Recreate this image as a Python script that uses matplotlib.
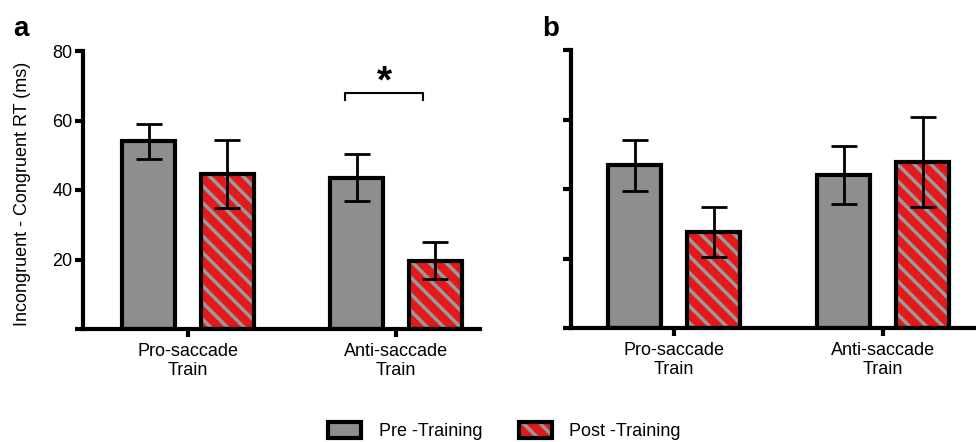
import numpy as np
import matplotlib
matplotlib.use("Agg")
import matplotlib.pyplot as plt
from matplotlib.patches import Patch
from matplotlib.legend_handler import HandlerTuple

plt.rcParams['font.family'] = ['Liberation Sans', 'DejaVu Sans']
plt.rcParams['hatch.linewidth'] = 2.5

# data (ms)
groups = ["Pro-saccade\nTrain", "Anti-saccade\nTrain"]
pre_a = [54.0, 43.5]
pre_a_err = [5.0, 6.8]
post_a = [44.6, 19.7]
post_a_err = [9.8, 5.4]
pre_b = [46.8, 44.1]
pre_b_err = [7.4, 8.3]
post_b = [27.6, 47.8]
post_b_err = [7.2, 13.0]
yticks = [0, 20, 40, 60, 80]
ytick_labels = ["", "20", "40", "60", "80"]

gray = "#8e8e8e"
red = "#e4191c"
stripe = "#9a9a9a"
hatch = "\\\\"
width = 0.255
offset = 0.189

fig = plt.figure(figsize=(9.76, 4.42), dpi=100)
ax_a = fig.add_axes([83/976, 1 - 329/442, 397/976, 278/442])
ax_b = fig.add_axes([571/976, 1 - 328/442, 404/976, 278/442])


def draw_panel(ax, pre, pre_err, post, post_err, show_labels):
    x = np.arange(len(groups))
    ax.bar(x - offset, pre, width, color=gray, edgecolor="black", linewidth=3, zorder=2)
    # hatched layer first, then black outline on top
    ax.bar(x + offset, post, width, color=red, edgecolor=stripe, hatch=hatch, linewidth=0, zorder=2)
    ax.bar(x + offset, post, width, fill=False, edgecolor="black", linewidth=3, zorder=3)
    ax.errorbar(x - offset, pre, yerr=pre_err, fmt="none", ecolor="black",
                elinewidth=2, capsize=9.5, capthick=2, zorder=4)
    ax.errorbar(x + offset, post, yerr=post_err, fmt="none", ecolor="black",
                elinewidth=2, capsize=9.5, capthick=2, zorder=4)
    ax.set_ylim(0, 80)
    ax.set_xticks(x)
    ax.set_xticklabels(groups, fontsize=13, linespacing=1.15)
    ax.set_yticks(yticks)
    ax.set_yticklabels(ytick_labels if show_labels else [""] * len(yticks), fontsize=13)
    for side in ["top", "right"]:
        ax.spines[side].set_visible(False)
    for side in ["left", "bottom"]:
        ax.spines[side].set_linewidth(3)
    ax.tick_params(axis="both", width=3, length=6, direction="out")
    ax.tick_params(axis="y", pad=1.5)
    ax.tick_params(axis="x", pad=4)


draw_panel(ax_a, pre_a, pre_a_err, post_a, post_a_err, True)
draw_panel(ax_b, pre_b, pre_b_err, post_b, post_b_err, False)
ax_a.set_xlim(-0.505, 1.404)
ax_b.set_xlim(-0.493, 1.44)

ax_a.set_ylabel("Incongruent - Congruent RT (ms)", fontsize=13)
ax_a.yaxis.set_label_coords(-0.13, 0.486)

# significance bracket
ax_a.plot([0.755, 0.755, 1.128, 1.128], [65.9, 68, 68, 65.9], color="black", lw=1.5, clip_on=False)
ax_a.text(0.947, 71.0, "*", fontsize=28, fontweight="bold", ha="center", va="center")

fig.text(21/976, 1 - 35.5/442, "a", fontsize=20, fontweight="bold", ha="center", va="baseline")
fig.text(551/976, 1 - 35.5/442, "b", fontsize=20, fontweight="bold", ha="center", va="baseline")

pre_handle = Patch(facecolor=gray, edgecolor="black", linewidth=3)
post_handle = (Patch(facecolor=red, edgecolor=stripe, hatch=hatch, linewidth=0),
               Patch(fill=False, edgecolor="black", linewidth=3))
fig.legend([pre_handle, post_handle], ["Pre -Training", "Post -Training"],
           handler_map={tuple: HandlerTuple(ndivide=1, pad=0)},
           loc="center", bbox_to_anchor=(0.517, 0.025), ncol=2, frameon=False,
           fontsize=13, handlelength=1.83, handleheight=1.0, handletextpad=0.96,
           columnspacing=2.05)

fig.savefig("out.png", dpi=100)
